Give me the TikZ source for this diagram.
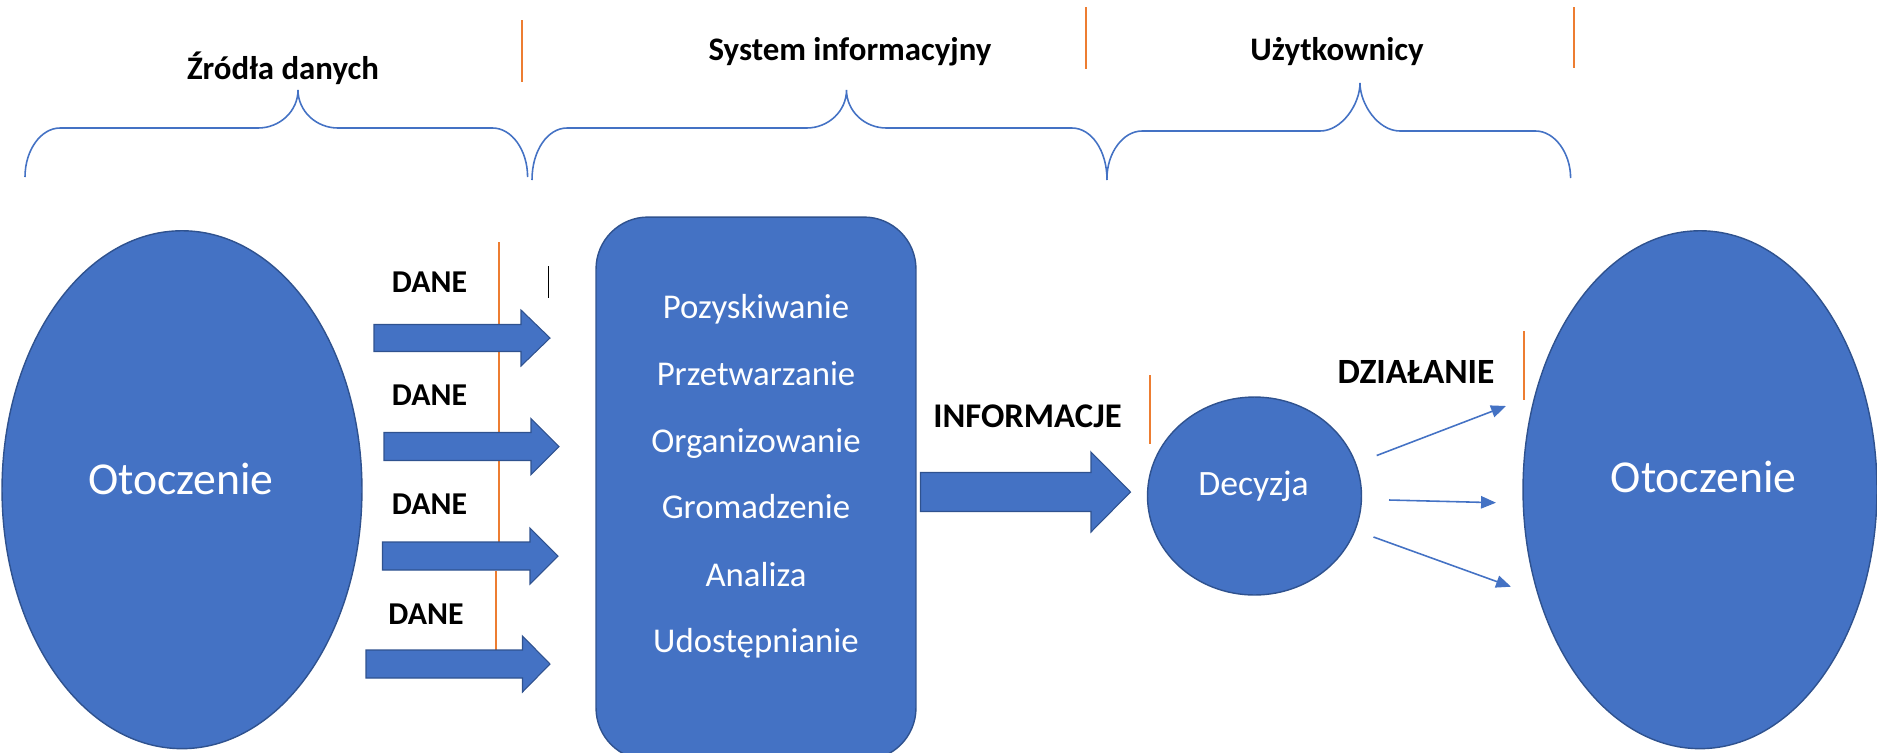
\documentclass[tikz,border=0pt]{standalone}
\usepackage{fontspec}
\setmainfont{Carlito}
\usetikzlibrary{arrows.meta,shapes.geometric}
\definecolor{obl}{HTML}{4472C4}
\definecolor{obd}{HTML}{2F528F}
\definecolor{oor}{HTML}{ED7D31}
\newcommand\blkarrow[6]{%
  \draw[blockarr] (#1,#4-#5) -- (#2,#4-#5) -- (#2,#4-#6) -- (#3,#4) -- (#2,#4+#6) -- (#2,#4+#5) -- (#1,#4+#5) -- cycle;}
\newcommand\brc[6]{%
  \draw[bracepath] (#1,#6) .. controls (#1,#4+22) and (#1+16,#4) .. (#1+35,#4)
    -- (#2-40,#4) .. controls (#2-18,#4) and (#2,#5+21) .. (#2,#5)
    .. controls (#2,#5+21) and (#2+18,#4) .. (#2+40,#4)
    -- (#3-35,#4) .. controls (#3-16,#4) and (#3,#4+22) .. (#3,#6);}
\tikzset{
  blob/.style={draw=obd, fill=obl, line width=0.8pt, inner sep=0pt, outer sep=0pt},
  blockarr/.style={draw=obd, fill=obl, line width=0.6pt},
  bracepath/.style={draw=obl, line width=0.9pt},
  orangeline/.style={draw=oor, line width=1.1pt},
  thinarr/.style={draw=obl, line width=0.9pt, -{Triangle[length=8.5pt,width=7pt]}},
  toplabel/.style={inner sep=0pt, anchor=base, font=\fontsize{18.7}{20}\selectfont\bfseries},
  danelabel/.style={inner sep=0pt, anchor=base, font=\fontsize{18.1}{20}\selectfont\bfseries},
  flowlabel/.style={inner sep=0pt, anchor=base, font=\fontsize{19.7}{22}\selectfont\bfseries},
  listtext/.style={inner sep=0pt, anchor=base, text=white, font=\fontsize{19.8}{22}\selectfont},
  bigtext/.style={inner sep=0pt, anchor=base, text=white, font=\fontsize{26}{28}\selectfont},
}
\begin{document}
\begin{tikzpicture}[x=0.02cm, y=-0.02cm]
\useasboundingbox (0,0) rectangle (1877,752);

% top labels and braces
\node[toplabel] (zrodla) at (283,79) {Źródła danych};
\node[toplabel] (system) at (850,60) {System informacyjny};
\node[toplabel] (uzytk) at (1337,60) {Użytkownicy};
\draw[orangeline] (521.6,20) -- (521.6,82);
\draw[orangeline] (1086.4,7) -- (1086.4,69);
\draw[orangeline] (1573.6,7) -- (1573.6,68);
\brc{25}{298}{527.6}{128}{90}{177}
\brc{532}{846.5}{1107}{128}{90}{180}
\brc{1107}{1360}{1570.6}{131}{83}{178}

% environment ellipses
\node[blob, ellipse, minimum width=7.2cm, minimum height=10.36cm] (envL) at (182,489.7) {};
\node[bigtext] (envLt) at (181,494) {Otoczenie};
\node[blob, ellipse, minimum width=7.08cm, minimum height=10.36cm] (envR) at (1700,489.7) {};
\node[bigtext] (envRt) at (1703.5,492) {Otoczenie};

% system box
\node[blob, rectangle, rounded corners=1.04cm, minimum width=6.4cm, minimum height=10.86cm] (sys) at (756,488.5) {};
\node[listtext] (l1) at (756,318) {Pozyskiwanie};
\node[listtext] (l2) at (756,385) {Przetwarzanie};
\node[listtext] (l3) at (756,452) {Organizowanie};
\node[listtext] (l4) at (756,518.5) {Gromadzenie};
\node[listtext] (l5) at (756,586) {Analiza};
\node[listtext] (l6) at (756,652.5) {Udostępnianie};

% data inputs
\draw[orangeline] (499,242) -- (499,556);
\draw[orangeline] (496,571) -- (496,664);
\draw[black, line width=0.7pt] (548.6,266) -- (548.6,298);
\node[danelabel] (d1) at (429.5,292.5) {DANE};
\node[danelabel] (d2) at (429.5,405) {DANE};
\node[danelabel] (d3) at (429.5,514) {DANE};
\node[danelabel] (d4) at (426,624) {DANE};
\blkarrow{374}{521}{550}{338}{13.5}{28}
\blkarrow{384}{531}{559}{446.5}{14}{28}
\blkarrow{382.5}{530}{558}{556}{14}{28}
\blkarrow{366}{522.5}{550}{664}{14}{28}

% information to decision
\node[flowlabel] (info) at (1027.5,427) {INFORMACJE};
\draw[orangeline] (1150,375) -- (1150,444);
\blkarrow{920.5}{1091}{1130.5}{492}{19.5}{40}
\node[blob, ellipse, minimum width=4.28cm, minimum height=3.96cm] (dec) at (1254.5,496) {};
\node[listtext, font=\fontsize{20.3}{22}\selectfont] (dect) at (1253.5,495) {Decyzja};

% actions
\node[flowlabel, font=\fontsize{20.2}{22}\selectfont\bfseries] (dzial) at (1416,383) {DZIAŁANIE};
\draw[orangeline] (1523.7,331) -- (1523.7,400);
\coordinate (a1s) at (1376.7,455.5); \coordinate (a1e) at (1506,406);
\coordinate (a2s) at (1389,500);   \coordinate (a2e) at (1496,502.7);
\coordinate (a3s) at (1373.5,537); \coordinate (a3e) at (1511,586.7);
\draw[thinarr] (a1s) -- (a1e);
\draw[thinarr] (a2s) -- (a2e);
\draw[thinarr] (a3s) -- (a3e);
\end{tikzpicture}
\end{document}
